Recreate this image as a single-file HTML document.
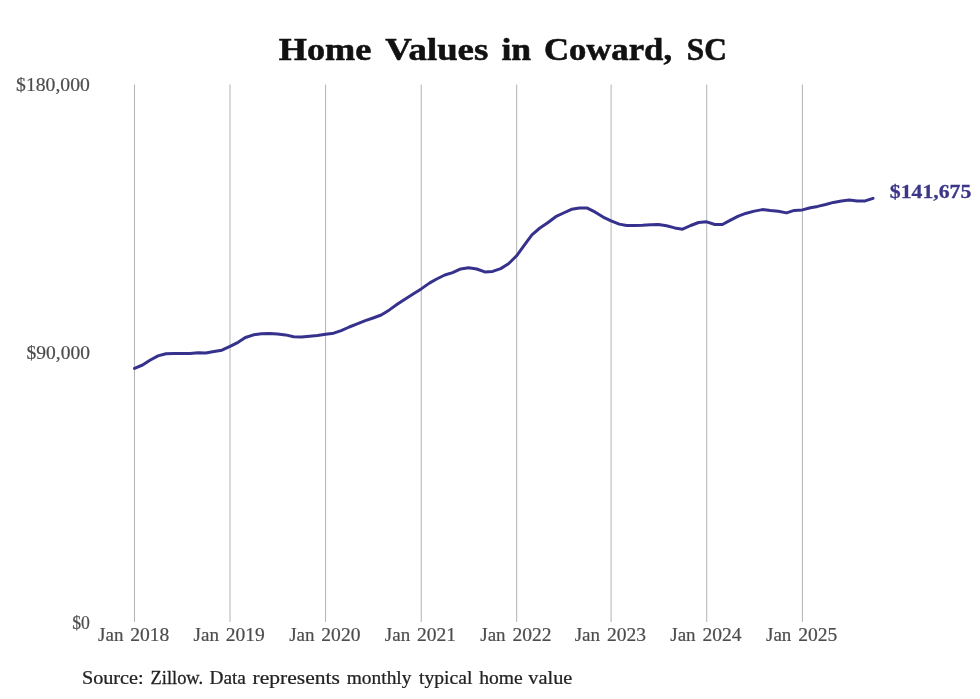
<!DOCTYPE html>
<html lang="en"><head><meta charset="utf-8"><title>Home Values in Coward, SC</title>
<style>
html,body{margin:0;padding:0;background:#ffffff;}
body{width:980px;height:699px;overflow:hidden;font-family:"Liberation Serif",serif;}
svg{display:block;font-family:"Liberation Serif",serif;}
.grid line{stroke:#b6b6b6;stroke-width:1.05;}
text{white-space:pre;}
svg{will-change:transform;}
</style></head><body>
<svg width="980" height="699" viewBox="0 0 980 699">
<rect width="980" height="699" fill="#ffffff"/>
<g class="grid"><line x1="134.5" x2="134.5" y1="84.6" y2="622"/><line x1="230.0" x2="230.0" y1="84.6" y2="622"/><line x1="325.55" x2="325.55" y1="84.6" y2="622"/><line x1="421.25" x2="421.25" y1="84.6" y2="622"/><line x1="516.65" x2="516.65" y1="84.6" y2="622"/><line x1="611.1" x2="611.1" y1="84.6" y2="622"/><line x1="706.7" x2="706.7" y1="84.6" y2="622"/><line x1="802.4" x2="802.4" y1="84.6" y2="622"/></g>
<text transform="translate(278.80,60.30) scale(1.1325,1)" font-size="32.01" font-weight="bold" fill="#111111" stroke="#111111" stroke-width="0.6" stroke-linejoin="round" vector-effect="non-scaling-stroke">Home</text>
<text transform="translate(385.30,60.30) scale(1.1502,1)" font-size="32.01" font-weight="bold" fill="#111111" stroke="#111111" stroke-width="0.6" stroke-linejoin="round" vector-effect="non-scaling-stroke">Values</text>
<text transform="translate(501.40,60.30) scale(1.1125,1)" font-size="32.01" font-weight="bold" fill="#111111" stroke="#111111" stroke-width="0.6" stroke-linejoin="round" vector-effect="non-scaling-stroke">in</text>
<text transform="translate(543.90,60.30) scale(1.0840,1)" font-size="32.01" font-weight="bold" fill="#111111" stroke="#111111" stroke-width="0.6" stroke-linejoin="round" vector-effect="non-scaling-stroke">Coward,</text>
<text transform="translate(686.70,60.30) scale(0.9798,1)" font-size="32.01" font-weight="bold" fill="#111111" stroke="#111111" stroke-width="0.6" stroke-linejoin="round" vector-effect="non-scaling-stroke">SC</text>
<text transform="translate(16.10,90.65) scale(1.0588,1)" font-size="18.59" font-weight="normal" fill="#4c4c4c" stroke="#4c4c4c" stroke-width="0.2" stroke-linejoin="round" vector-effect="non-scaling-stroke">$180,000</text>
<text transform="translate(26.50,358.65) scale(1.0495,1)" font-size="18.59" font-weight="normal" fill="#4c4c4c" stroke="#4c4c4c" stroke-width="0.2" stroke-linejoin="round" vector-effect="non-scaling-stroke">$90,000</text>
<text transform="translate(72.20,628.65) scale(0.9523,1)" font-size="18.59" font-weight="normal" fill="#4c4c4c" stroke="#4c4c4c" stroke-width="0.2" stroke-linejoin="round" vector-effect="non-scaling-stroke">$0</text>
<text transform="translate(98.10,640.70) scale(1.0211,1)" font-size="18.59" font-weight="normal" fill="#4c4c4c" stroke="#4c4c4c" stroke-width="0.2" stroke-linejoin="round" vector-effect="non-scaling-stroke">Jan</text>
<text transform="translate(130.30,640.70) scale(1.0518,1)" font-size="18.59" font-weight="normal" fill="#4c4c4c" stroke="#4c4c4c" stroke-width="0.2" stroke-linejoin="round" vector-effect="non-scaling-stroke">2018</text>
<text transform="translate(193.60,640.70) scale(1.0211,1)" font-size="18.59" font-weight="normal" fill="#4c4c4c" stroke="#4c4c4c" stroke-width="0.2" stroke-linejoin="round" vector-effect="non-scaling-stroke">Jan</text>
<text transform="translate(225.80,640.70) scale(1.0518,1)" font-size="18.59" font-weight="normal" fill="#4c4c4c" stroke="#4c4c4c" stroke-width="0.2" stroke-linejoin="round" vector-effect="non-scaling-stroke">2019</text>
<text transform="translate(289.15,640.70) scale(1.0211,1)" font-size="18.59" font-weight="normal" fill="#4c4c4c" stroke="#4c4c4c" stroke-width="0.2" stroke-linejoin="round" vector-effect="non-scaling-stroke">Jan</text>
<text transform="translate(321.35,640.70) scale(1.0518,1)" font-size="18.59" font-weight="normal" fill="#4c4c4c" stroke="#4c4c4c" stroke-width="0.2" stroke-linejoin="round" vector-effect="non-scaling-stroke">2020</text>
<text transform="translate(384.85,640.70) scale(1.0211,1)" font-size="18.59" font-weight="normal" fill="#4c4c4c" stroke="#4c4c4c" stroke-width="0.2" stroke-linejoin="round" vector-effect="non-scaling-stroke">Jan</text>
<text transform="translate(417.05,640.70) scale(1.0518,1)" font-size="18.59" font-weight="normal" fill="#4c4c4c" stroke="#4c4c4c" stroke-width="0.2" stroke-linejoin="round" vector-effect="non-scaling-stroke">2021</text>
<text transform="translate(480.25,640.70) scale(1.0211,1)" font-size="18.59" font-weight="normal" fill="#4c4c4c" stroke="#4c4c4c" stroke-width="0.2" stroke-linejoin="round" vector-effect="non-scaling-stroke">Jan</text>
<text transform="translate(512.45,640.70) scale(1.0518,1)" font-size="18.59" font-weight="normal" fill="#4c4c4c" stroke="#4c4c4c" stroke-width="0.2" stroke-linejoin="round" vector-effect="non-scaling-stroke">2022</text>
<text transform="translate(574.70,640.70) scale(1.0211,1)" font-size="18.59" font-weight="normal" fill="#4c4c4c" stroke="#4c4c4c" stroke-width="0.2" stroke-linejoin="round" vector-effect="non-scaling-stroke">Jan</text>
<text transform="translate(606.90,640.70) scale(1.0518,1)" font-size="18.59" font-weight="normal" fill="#4c4c4c" stroke="#4c4c4c" stroke-width="0.2" stroke-linejoin="round" vector-effect="non-scaling-stroke">2023</text>
<text transform="translate(670.30,640.70) scale(1.0211,1)" font-size="18.59" font-weight="normal" fill="#4c4c4c" stroke="#4c4c4c" stroke-width="0.2" stroke-linejoin="round" vector-effect="non-scaling-stroke">Jan</text>
<text transform="translate(702.50,640.70) scale(1.0518,1)" font-size="18.59" font-weight="normal" fill="#4c4c4c" stroke="#4c4c4c" stroke-width="0.2" stroke-linejoin="round" vector-effect="non-scaling-stroke">2024</text>
<text transform="translate(766.00,640.70) scale(1.0211,1)" font-size="18.59" font-weight="normal" fill="#4c4c4c" stroke="#4c4c4c" stroke-width="0.2" stroke-linejoin="round" vector-effect="non-scaling-stroke">Jan</text>
<text transform="translate(798.20,640.70) scale(1.0518,1)" font-size="18.59" font-weight="normal" fill="#4c4c4c" stroke="#4c4c4c" stroke-width="0.2" stroke-linejoin="round" vector-effect="non-scaling-stroke">2025</text>
<text transform="translate(889.75,197.70) scale(1.2177,1)" font-size="17.87" font-weight="bold" fill="#3b3688" stroke="#3b3688" stroke-width="0.3" stroke-linejoin="round" vector-effect="non-scaling-stroke">$141,675</text>
<text transform="translate(81.92,683.90) scale(1.0868,1)" font-size="18.59" font-weight="normal" fill="#222222" stroke="#222222" stroke-width="0.25" stroke-linejoin="round" vector-effect="non-scaling-stroke">Source:</text>
<text transform="translate(150.53,683.90) scale(0.9915,1)" font-size="18.59" font-weight="normal" fill="#222222" stroke="#222222" stroke-width="0.25" stroke-linejoin="round" vector-effect="non-scaling-stroke">Zillow.</text>
<text transform="translate(209.43,683.90) scale(1.0418,1)" font-size="18.59" font-weight="normal" fill="#222222" stroke="#222222" stroke-width="0.25" stroke-linejoin="round" vector-effect="non-scaling-stroke">Data</text>
<text transform="translate(252.62,683.90) scale(1.1580,1)" font-size="18.59" font-weight="normal" fill="#222222" stroke="#222222" stroke-width="0.25" stroke-linejoin="round" vector-effect="non-scaling-stroke">represents</text>
<text transform="translate(346.73,683.90) scale(1.0450,1)" font-size="18.59" font-weight="normal" fill="#222222" stroke="#222222" stroke-width="0.25" stroke-linejoin="round" vector-effect="non-scaling-stroke">monthly</text>
<text transform="translate(419.02,683.90) scale(1.0549,1)" font-size="18.59" font-weight="normal" fill="#222222" stroke="#222222" stroke-width="0.25" stroke-linejoin="round" vector-effect="non-scaling-stroke">typical</text>
<text transform="translate(479.23,683.90) scale(1.0547,1)" font-size="18.59" font-weight="normal" fill="#222222" stroke="#222222" stroke-width="0.25" stroke-linejoin="round" vector-effect="non-scaling-stroke">home</text>
<text transform="translate(528.33,683.90) scale(1.0944,1)" font-size="18.59" font-weight="normal" fill="#222222" stroke="#222222" stroke-width="0.25" stroke-linejoin="round" vector-effect="non-scaling-stroke">value</text>
<polyline points="134.5,368.4 142.6,365.0 149.9,360.2 158.0,355.9 165.9,353.8 174.0,353.4 181.9,353.5 190.0,353.5 198.1,352.8 205.9,353.0 214.0,351.6 221.9,350.2 230.0,346.4 238.1,342.3 245.4,337.5 253.6,334.8 261.4,333.7 269.5,333.4 277.4,333.9 285.5,334.9 293.6,336.8 301.5,337.1 309.6,336.2 317.4,335.4 325.6,334.3 333.7,333.2 341.2,330.6 349.3,327.0 357.2,323.8 365.3,320.7 373.1,318.0 381.2,315.0 389.4,309.9 397.2,304.3 405.3,298.9 413.1,294.0 421.2,288.9 429.4,283.1 436.7,279.0 444.8,275.0 452.6,272.6 460.7,268.9 468.6,267.8 476.7,269.0 484.8,271.9 492.6,271.4 500.7,268.6 508.5,263.8 516.6,255.8 524.7,244.6 531.9,234.9 539.9,228.0 547.7,222.8 555.7,216.7 563.5,213.0 571.5,209.3 579.5,207.9 587.3,208.1 595.3,212.2 603.1,217.1 611.1,220.8 619.2,224.1 626.6,225.5 634.7,225.5 642.5,225.2 650.6,224.7 658.5,224.4 666.6,225.7 674.7,227.9 682.6,229.2 690.7,225.5 698.6,222.5 706.7,221.8 714.8,224.5 722.4,224.5 730.5,220.1 738.3,216.2 746.4,213.2 754.3,211.1 762.4,209.6 770.5,210.6 778.3,211.3 786.5,212.9 794.3,210.4 802.4,209.9 810.4,207.7 817.7,206.4 825.7,204.5 833.4,202.4 841.5,201.0 849.2,200.1 857.2,200.9 865.2,200.9 873.0,198.3" fill="none" stroke="#36318c" stroke-width="3" stroke-linejoin="round" stroke-linecap="round"/>
</svg>
</body></html>
